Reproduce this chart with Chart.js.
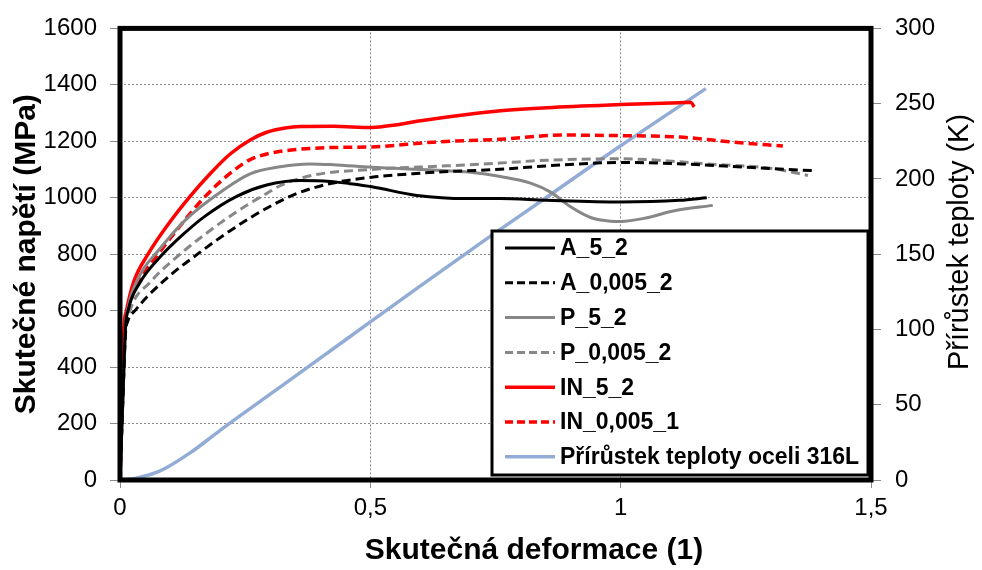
<!DOCTYPE html>
<html>
<head>
<meta charset="utf-8">
<script src="https://cdn.jsdelivr.net/npm/chart.js@4.4.0/dist/chart.umd.min.js"></script>
<style>
  body { margin: 0; background: #fff; }
</style>
</head>
<body>
<canvas id="myChart" width="982" height="570"></canvas>
<script>
// tick values for the three axes
const strainTicks = [0, 0.5, 1, 1.5];
const stressTicks = [0, 200, 400, 600, 800, 1000, 1200, 1400, 1600];
const tempTicks = [0, 50, 100, 150, 200, 250, 300];

// A_5_2
const strainA52 = [0, 0.006, 0.011, 0.016, 0.04, 0.08, 0.126, 0.17, 0.233, 0.293, 0.36, 0.42, 0.459, 0.503, 0.593, 0.693, 0.759, 0.853, 1.0, 1.118, 1.172];
const stressA52 = [0, 300, 540, 600, 700, 790, 870, 935, 1005, 1045, 1061, 1058, 1050, 1039, 1008, 997, 997, 991, 985, 991, 1000];

// A_0,005_2
const strainA0052 = [0, 0.006, 0.011, 0.015, 0.03, 0.084, 0.166, 0.23, 0.293, 0.353, 0.42, 0.503, 0.585, 0.626, 0.759, 0.853, 1.0, 1.118, 1.252, 1.384];
const stressA0052 = [0, 300, 520, 560, 600, 700, 815, 895, 963, 1015, 1050, 1073, 1085, 1090, 1101, 1113, 1125, 1120, 1108, 1096];

// P_5_2
const strainP52 = [0, 0.006, 0.011, 0.015, 0.035, 0.08, 0.13, 0.185, 0.26, 0.32, 0.38, 0.426, 0.503, 0.626, 0.7, 0.76, 0.82, 0.86, 0.9, 0.94, 0.98, 1.0, 1.05, 1.105, 1.184];
const stressP52 = [0, 300, 540, 600, 710, 820, 920, 1000, 1085, 1110, 1120, 1117, 1108, 1098, 1090, 1075, 1052, 1020, 968, 930, 917, 916, 928, 953, 973];

// P_0,005_2
const strainP0052 = [0, 0.006, 0.011, 0.02, 0.06, 0.12, 0.2, 0.25, 0.293, 0.32, 0.386, 0.5, 0.653, 0.759, 0.853, 1.0, 1.172, 1.304, 1.374];
const stressP0052 = [0, 300, 520, 600, 700, 800, 910, 970, 1015, 1043, 1080, 1100, 1113, 1123, 1133, 1138, 1120, 1103, 1079];

// IN_5_2
const strainIN52 = [0, 0.004, 0.008, 0.013, 0.027, 0.056, 0.1, 0.14, 0.18, 0.22, 0.26, 0.293, 0.33, 0.36, 0.425, 0.503, 0.55, 0.593, 0.693, 0.76, 0.853, 1.0, 1.118, 1.14, 1.147];
const stressIN52 = [0, 300, 540, 600, 700, 800, 915, 1005, 1085, 1155, 1205, 1232, 1247, 1252, 1253, 1249, 1258, 1271, 1295, 1308, 1319, 1330, 1337, 1338, 1322];

// IN_0,005_1
const strainIN0051 = [0, 0.005, 0.009, 0.016, 0.036, 0.076, 0.12, 0.16, 0.193, 0.226, 0.26, 0.3, 0.36, 0.426, 0.503, 0.626, 0.759, 0.885, 1.0, 1.118, 1.218, 1.324];
const stressIN0051 = [0, 300, 520, 600, 700, 800, 900, 985, 1045, 1095, 1135, 1158, 1172, 1178, 1180, 1197, 1207, 1222, 1220, 1215, 1198, 1183];

// temperature rise of 316L steel (right axis, K)
const strainTemp = [0, 0.03, 0.08, 0.14, 0.2, 0.3, 0.4, 0.5, 0.6, 0.74, 0.84, 1.0, 1.17];
const tempRise = [0, 1, 6, 18, 33, 57, 81, 105, 129, 162, 185, 222, 260];

const pts = (xs, ys) => xs.map((x, i) => ({ x: x, y: ys[i] }));
const fmt = v => String(v).replace('.', ',');
const FONT = '"Liberation Sans", Arial, Helvetica, sans-serif';
const DASH = [9, 5];

Chart.defaults.color = '#000';
Chart.defaults.font.family = FONT;

function curve(label, xs, ys, color, dashed, width) {
    return {
        label: label,
        data: pts(xs, ys),
        borderColor: color,
        backgroundColor: color,
        borderWidth: width || 3,
        borderDash: dashed ? DASH : [],
        pointRadius: 0,
        cubicInterpolationMode: 'monotone',
        fill: false,
        yAxisID: 'y'
    };
}

const datasets = [
    curve('A_5_2', strainA52, stressA52, '#000000', false),
    curve('A_0,005_2', strainA0052, stressA0052, '#000000', true),
    curve('P_5_2', strainP52, stressP52, '#878787', false),
    curve('P_0,005_2', strainP0052, stressP0052, '#878787', true),
    curve('IN_5_2', strainIN52, stressIN52, '#ff0000', false, 3.5),
    curve('IN_0,005_1', strainIN0051, stressIN0051, '#ff0000', true, 3.5),
    Object.assign(curve('Přírůstek teploty oceli 316L', strainTemp, tempRise, '#92acd6', false, 3.5), { yAxisID: 'y1' })
];

// thick black frame round the plot area
const plotFrame = {
    id: 'plotFrame',
    afterDatasetsDraw(chart, args, opts) {
        const { ctx, chartArea: a } = chart;
        ctx.save();
        ctx.lineWidth = opts.width;
        ctx.strokeStyle = opts.color;
        ctx.strokeRect(a.left, a.top, a.right - a.left, a.bottom - a.top);
        ctx.restore();
    }
};

// boxed legend sitting inside the plot
const boxLegend = {
    id: 'boxLegend',
    afterDatasetsDraw(chart, args, o) {
        const ctx = chart.ctx;
        ctx.save();
        ctx.fillStyle = '#fff';
        ctx.fillRect(o.left, o.top, o.right - o.left, o.bottom - o.top);
        ctx.lineWidth = o.borderWidth;
        ctx.strokeStyle = '#000';
        ctx.strokeRect(o.left, o.top, o.right - o.left, o.bottom - o.top);
        ctx.font = o.font;
        ctx.textBaseline = 'middle';
        ctx.textAlign = 'left';
        chart.data.datasets.forEach((ds, i) => {
            const y = o.firstRow + i * o.rowHeight;
            ctx.beginPath();
            ctx.setLineDash(ds.borderDash.length ? [8, 4] : []);
            ctx.lineWidth = ds.borderWidth;
            ctx.strokeStyle = ds.borderColor;
            ctx.moveTo(o.lineStart, y);
            ctx.lineTo(o.lineEnd, y);
            ctx.stroke();
            ctx.setLineDash([]);
            ctx.fillStyle = '#000';
            ctx.fillText(ds.label, o.textStart, y + 1);
        });
        ctx.restore();
    }
};

// axis titles (both vertical ones read bottom to top)
const axisTitles = {
    id: 'axisTitles',
    afterDraw(chart, args, o) {
        const ctx = chart.ctx;
        const a = chart.chartArea;
        const midY = (a.top + a.bottom) / 2;
        ctx.save();
        ctx.fillStyle = '#000';
        ctx.textAlign = 'center';
        ctx.textBaseline = 'middle';
        o.items.forEach(t => {
            ctx.save();
            ctx.font = t.font;
            ctx.translate(t.x, t.y === undefined ? midY : t.y);
            ctx.rotate(t.rotate || 0);
            ctx.fillText(t.text, 0, 0);
            ctx.restore();
        });
        ctx.restore();
    }
};

const ctx = document.getElementById('myChart').getContext('2d');
const chart = new Chart(ctx, {
    type: 'line',
    data: { datasets: datasets },
    plugins: [plotFrame, boxLegend, axisTitles],
    options: {
        responsive: false,
        animation: false,
        layout: { padding: { top: 22, left: 0, right: 0, bottom: 0 } },
        plugins: {
            legend: { display: false },
            tooltip: { enabled: false },
            plotFrame: { width: 5, color: '#000' },
            boxLegend: {
                left: 492, top: 231, right: 868, bottom: 475,
                borderWidth: 3,
                firstRow: 248, rowHeight: 34.8,
                lineStart: 505, lineEnd: 555, textStart: 560,
                font: 'bold 23px ' + FONT
            },
            axisTitles: {
                items: [
                    { text: 'Skutečná deformace (1)', x: 534, y: 551, font: 'bold 30px ' + FONT },
                    { text: 'Skutečné napětí (MPa)', x: 27, rotate: -Math.PI / 2, font: 'bold 30px ' + FONT },
                    { text: 'Přírůstek teploty (K)', x: 960, y: 242, rotate: -Math.PI / 2, font: '29px ' + FONT }
                ]
            }
        },
        scales: {
            x: {
                type: 'linear',
                min: 0, max: 1.5,
                afterBuildTicks: s => { s.ticks = strainTicks.map(v => ({ value: v })); },
                afterFit: s => { s.height = 90; },
                ticks: { callback: fmt, font: { size: 24 }, padding: 6, maxRotation: 0 },
                grid: { color: '#8a8a8a', lineWidth: 1, tickLength: 8, tickColor: '#8a8a8a' },
                border: { display: false, dash: [2, 2] }
            },
            y: {
                position: 'left',
                min: 0, max: 1600,
                afterBuildTicks: s => { s.ticks = stressTicks.map(v => ({ value: v })); },
                afterFit: s => { s.width = 120; },
                ticks: { callback: v => String(v), font: { size: 24 }, padding: 13 },
                grid: { color: '#8a8a8a', lineWidth: 1, tickLength: 10, tickColor: '#8a8a8a' },
                border: { display: false, dash: [2, 2] }
            },
            y1: {
                position: 'right',
                min: 0, max: 300,
                afterBuildTicks: s => { s.ticks = tempTicks.map(v => ({ value: v })); },
                afterFit: s => { s.width = 111; },
                ticks: { callback: v => String(v), font: { size: 24 }, padding: 14 },
                grid: { drawOnChartArea: false, tickLength: 10, tickColor: '#8a8a8a' },
                border: { display: false }
            }
        }
    }
});
</script>
</body>
</html>
